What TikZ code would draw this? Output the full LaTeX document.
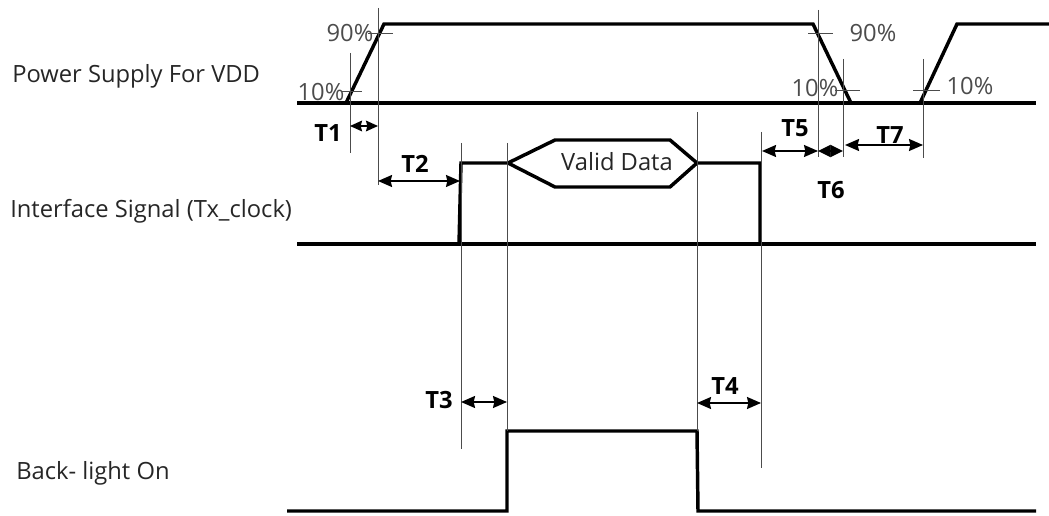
\documentclass[tikz,border=0pt]{standalone}
\usepackage{fontspec}
\setmainfont{Open Sans}
\usetikzlibrary{arrows.meta}
\begin{document}
\begin{tikzpicture}[x=0.75pt,y=-0.75pt,
  sig/.style={line width=2.6pt, line join=miter},
  guide/.style={line width=0.6pt, black!70},
  dimarrow/.style={line width=1.2pt, {Stealth[length=10.5pt,width=9pt,inset=1pt]}-{Stealth[length=10.5pt,width=9pt,inset=1pt]}},
  lbl/.style={font=\fontsize{17.8}{20}\selectfont, text=black!85, inner sep=0pt},
  pct/.style={font=\fontsize{17.8}{20}\selectfont, text=black!70, inner sep=0pt},
  tl/.style={font=\fontsize{17.8}{20}\selectfont\bfseries, inner sep=0pt}]
\useasboundingbox (0,0) rectangle (1049,516);

% row labels
\node[lbl, anchor=base west] (lvdd) at (12,83) {Power Supply For VDD};
\node[lbl, anchor=base west] (ltx) at (10,218) {Interface Signal (Tx\_clock)};
\node[lbl, anchor=base west] (lbl3) at (16,479) {Back- light On};

% power supply waveform
\draw[sig] (297,103) -- (1036,103);
\draw[sig] (346,103) -- (384,24) -- (813,24) -- (851,103);
\draw[sig] (920,103) -- (957,24) -- (1049,24);

% 10% / 90% ticks
\draw[guide] (342,91) -- (362,91);
\draw[guide] (368,33) -- (393,33);
\draw[guide] (808,33) -- (833,33);
\draw[guide] (835,90) -- (860,90);
\draw[guide] (913,90) -- (940,90);

% percent labels
\node[pct] (p90a) at (350,33) {90\%};
\node[pct] (p10a) at (321,92) {10\%};
\node[pct] (p90b) at (873,33) {90\%};
\node[pct] (p10b) at (815,88) {10\%};
\node[pct] (p10c) at (970,86) {10\%};

% interface signal
\draw[sig] (297,244) -- (1036,244);
\draw[sig] (459,244) -- (461,163) -- (508,163) -- (555,140) -- (670,140) -- (697,163) -- (760,163) -- (760,244);
\draw[sig] (508,163) -- (555,187) -- (670,187) -- (697,163);
\node[lbl] (vd) at (617,162) {Valid Data};

% backlight
\draw[sig] (287,511) -- (507,511) -- (507,431) -- (697,431) -- (698,511) -- (1036,511);

% guide lines
\coordinate (g1t) at (350,53);  \coordinate (g1b) at (350,153);
\coordinate (g2t) at (378,8);   \coordinate (g2b) at (378,185);
\coordinate (g3t) at (461,143); \coordinate (g3b) at (461,449);
\coordinate (g4t) at (507,143); \coordinate (g4b) at (507,431);
\coordinate (g5t) at (697,112); \coordinate (g5b) at (697,431);
\coordinate (g6t) at (761,132); \coordinate (g6b) at (761,468);
\coordinate (g7t) at (818,10);  \coordinate (g7b) at (818,157);
\coordinate (g8t) at (843,59);  \coordinate (g8b) at (843,157);
\coordinate (g9t) at (923,59);  \coordinate (g9b) at (923,158);
\foreach \g in {1,...,9} \draw[guide] (g\g t) -- (g\g b);

% timing arrows
\coordinate (t1a) at (350,126); \coordinate (t1b) at (378,126);
\coordinate (t2a) at (378,181); \coordinate (t2b) at (460,181);
\coordinate (t3a) at (461,402); \coordinate (t3b) at (507,402);
\coordinate (t4a) at (697,403); \coordinate (t4b) at (761,403);
\coordinate (t5a) at (762,151); \coordinate (t5b) at (818,151);
\coordinate (t6a) at (818,151); \coordinate (t6b) at (843,151);
\coordinate (t7a) at (845,145); \coordinate (t7b) at (923,145);
\foreach \t in {2,...,5,7} \draw[dimarrow] (t\t a) -- (t\t b);
\draw[line width=1.2pt, {Stealth[length=9pt,width=8pt,inset=1pt]}-{Stealth[length=9pt,width=8pt,inset=1pt]}] (t1a) -- (t1b);
\draw[line width=1.2pt, {Stealth[length=9.4pt,width=9pt,inset=0pt]}-{Stealth[length=9.4pt,width=9pt,inset=0pt]}] (t6a) -- (t6b);

\node[tl] (T1) at (328,133) {T1};
\node[tl] (T2) at (415,164) {T2};
\node[tl] (T3) at (439,400) {T3};
\node[tl] (T4) at (725,386) {T4};
\node[tl] (T5) at (795,128) {T5};
\node[tl] (T6) at (831,190) {T6};
\node[tl] (T7) at (890,135) {T7};
\end{tikzpicture}
\end{document}
